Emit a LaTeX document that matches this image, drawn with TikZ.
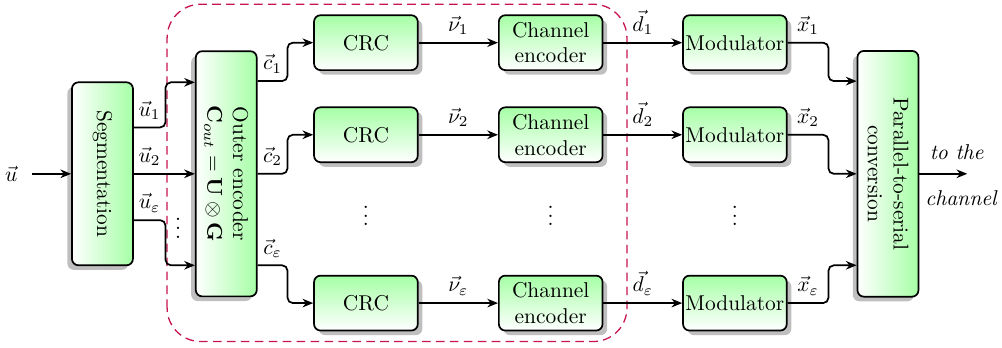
\documentclass[tikz,border=0pt]{standalone}
\usepackage{amsmath}
\usepackage{amssymb}
\usepackage{bm}
\usetikzlibrary{calc, positioning, shadows, arrows.meta}

\definecolor{dashred}{RGB}{200,20,80}

\begin{document}
\begin{tikzpicture}[-,auto,node distance=3.03cm,
                    thick,
                    box/.style={draw, rounded corners=3pt, minimum width=1.7cm, minimum height=0.9cm,
                                align=center, inner sep=1pt},
                    block/.style={box, top color=green!35, bottom color=white, drop shadow},
                    vblock/.style={box, rotate=-90, minimum height=1cm, left color=white,
                                   right color=green!35, drop shadow={shadow xshift=-.5ex}},
                    link/.style={-{Stealth[length=5pt,width=4pt]}, rounded corners=2.5pt},
                    dashbox/.style={draw=dashred, semithick, dash pattern=on 4pt off 2.5pt,
                                    rounded corners=0.55cm}]

  \useasboundingbox (0,0) rectangle (16.43,5.69);

  % inner part of the scheme
  \draw[dashbox] (2.74,0.09) rectangle (10.28,5.62);

  \node[vblock, minimum width=3cm] (seg) at (1.68,2.84) {Segmentation};
  \node[vblock, minimum width=4.02cm] (enc) at (3.71,2.84)
    {Outer encoder\\ $\mathbf{C}_{out}=\mathbf{U}\otimes\mathbf{G}$};

  \node[block] (crc1) at (6.00,4.99) {CRC};
  \node[block] (ch1) [right of=crc1] {Channel\\encoder};
  \node[block] (mod1) [right of=ch1, node distance=3.02cm] {Modulator};

  \node[block] (crc2) at (6.00,3.48) {CRC};
  \node[block] (ch2) [right of=crc2] {Channel\\encoder};
  \node[block] (mod2) [right of=ch2, node distance=3.02cm] {Modulator};

  \node[block] (crc3) at (6.00,0.72) {CRC};
  \node[block] (ch3) [right of=crc3] {Channel\\encoder};
  \node[block] (mod3) [right of=ch3, node distance=3.02cm] {Modulator};

  \node[vblock, minimum width=4.03cm] (par) at (14.56,2.84) {Parallel-to-serial\\conversion};

  \node (dots0) at (2.92,2.05) {$\vdots$};
  \node (dots1) [below of=crc2, node distance=1.23cm] {$\vdots$};
  \node (dots2) [below of=ch2, node distance=1.23cm] {$\vdots$};
  \node (dots3) [below of=mod2, node distance=1.23cm] {$\vdots$};

  \coordinate (in) at (0.52,2.84);
  \coordinate (out) at (15.86,2.84);

  % input and splitting
  \draw[link] (in) node[left=3pt] {$\vec{u}$} -- (seg);
  \draw[link] ($(seg.north)+(0,0.76)$) -- node[above] {$\vec{u}_1$} ++(0.52,0)
    |- ($(enc.south)+(0,1.5)$);
  \draw[link] (seg.north) -- node[above] {$\vec{u}_2$} ++(0.52,0) -- (enc.south);
  \draw[link] ($(seg.north)+(0,-0.76)$) -- node[above] {$\vec{u}_\varepsilon$} ++(0.52,0)
    |- ($(enc.south)+(0,-1.5)$);

  % outer encoder to the branches
  \draw[link] ($(enc.north)+(0,1.52)$) -- node[above] {$\vec{c}_1$} ++(0.49,0) |- (crc1);
  \draw[link] (enc.north) -- node[above] {$\vec{c}_2$} ++(0.49,0) |- (crc2);
  \draw[link] ($(enc.north)+(0,-1.5)$) -- node[above] {$\vec{c}_\varepsilon$} ++(0.49,0) |- (crc3);

  \draw[link] (crc1) -- node[above] {$\vec{\nu}_1$} (ch1);
  \draw[link] (crc2) -- node[above] {$\vec{\nu}_2$} (ch2);
  \draw[link] (crc3) -- node[above] {$\vec{\nu}_\varepsilon$} (ch3);

  \draw[link] (ch1) -- node[above] {$\vec{d}_1$} (mod1);
  \draw[link] (ch2) -- node[above] {$\vec{d}_2$} (mod2);
  \draw[link] (ch3) -- node[above] {$\vec{d}_\varepsilon$} (mod3);

  % merging
  \draw[link] (mod1.east) -- node[above] {$\vec{x}_1$} ++(0.67,0) |- ($(par.south)+(0,1.52)$);
  \draw[link] (mod2.east) -- node[above] {$\vec{x}_2$} ++(0.67,0) |- (par.south);
  \draw[link] (mod3.east) -- node[above] {$\vec{x}_\varepsilon$} ++(0.67,0) |- ($(par.south)+(0,-1.5)$);

  \draw[link] (par.north) -- node[above=3pt, xshift=0.22cm] {\textit{to the}}
    node[below=4pt, xshift=0.3cm] {\textit{channel}} (out);

\end{tikzpicture}
\end{document}
